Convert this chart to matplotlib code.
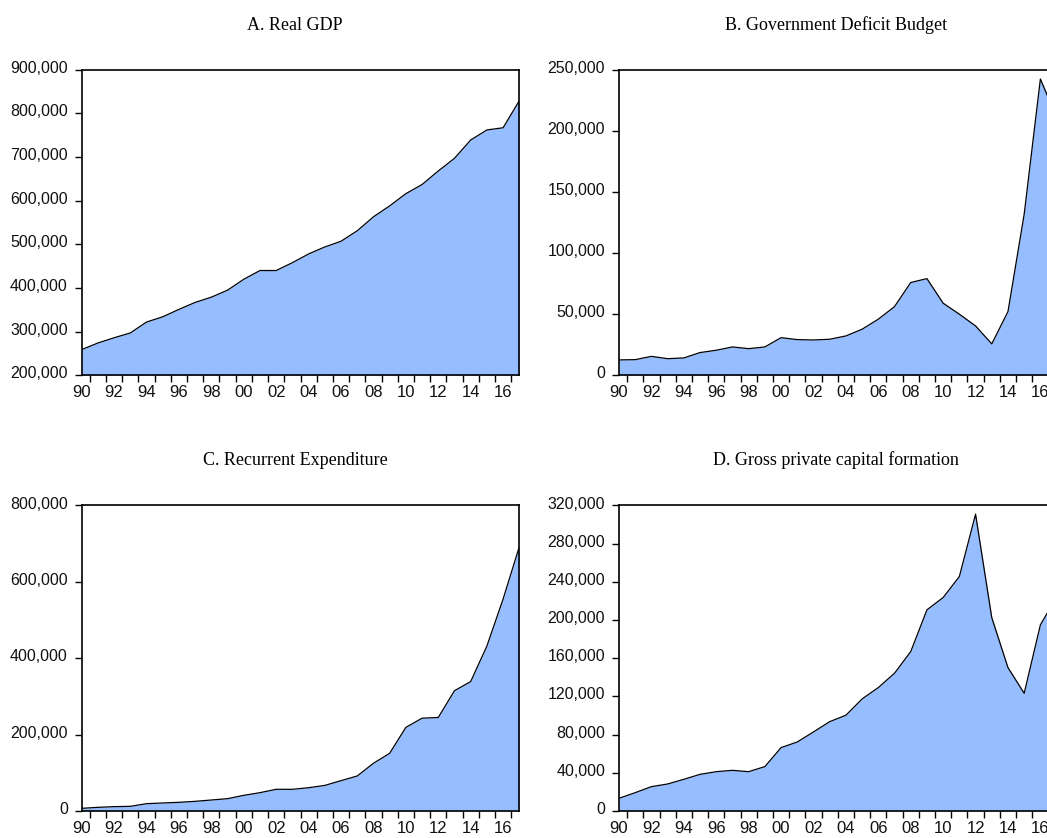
import matplotlib
matplotlib.use("Agg")
import matplotlib.pyplot as plt
from matplotlib.ticker import FixedLocator, FuncFormatter
from matplotlib.transforms import ScaledTranslation

# Annual observations, 1990-2017
years = list(range(1990, 2018))

real_gdp = [258900, 274000, 286000, 297000, 322000, 334000, 351000, 367000,
            379000, 395000, 420000, 440000, 440000, 458000, 478000, 494000,
            507000, 531000, 563000, 588000, 616000, 637000, 668000, 697000,
            739000, 762000, 767000, 829000]

deficit_budget = [12600, 12800, 15500, 13600, 14200, 18600, 20500, 23200,
                  21800, 23200, 30800, 29200, 28900, 29500, 32200, 37700,
                  45900, 56200, 75900, 79100, 59000, 50000, 40400, 25700,
                  52100, 131800, 242400, 211000]

recurrent_exp = [7000, 9600, 11400, 12200, 19200, 21000, 22700, 25300,
                 28800, 32300, 41000, 48000, 56800, 56800, 61000, 67000,
                 79500, 91700, 125000, 151000, 219000, 243000, 245000, 315000,
                 339000, 432000, 555000, 692000]

private_capital = [13300, 19200, 25500, 28300, 33200, 38400, 41200, 42600,
                   41200, 46500, 66400, 72300, 82800, 93600, 100300, 117400,
                   129300, 144300, 167000, 210700, 223600, 245600, 310900, 202600,
                   150200, 123300, 195000, 224000]

panels = [
    ("A. Real GDP", real_gdp, (200000, 900000), 100000),
    ("B. Government Deficit Budget", deficit_budget, (0, 250000), 50000),
    ("C. Recurrent Expenditure", recurrent_exp, (0, 800000), 200000),
    ("D. Gross private capital formation", private_capital, (0, 320000), 40000),
]

W, H = 1047, 838
fig = plt.figure(figsize=(W / 100, H / 100), dpi=100)

# axes boxes in pixels: left, top, right, bottom
boxes = [
    (81.7, 69.7, 519.3, 375.3),
    (619.0, 69.7, 1056.6, 375.3),
    (81.7, 505.5, 519.3, 811.0),
    (619.0, 505.5, 1056.6, 811.0),
]
title_pos = [(295, 25), (836, 25), (295, 460), (836, 460)]

fill_color = "#96bdfe"
tick_font = "Liberation Sans"
title_font = "Liberation Serif"

for (title, values, (ymin, ymax), ystep), (l, t, r, b), (tx, ty) in zip(panels, boxes, title_pos):
    ax = fig.add_axes([l / W, 1 - b / H, (r - l) / W, (b - t) / H])
    ax.fill_between(years, values, ymin, color=fill_color, linewidth=0, zorder=1)
    ax.plot(years, values, color="black", linewidth=0.9, zorder=2)
    ax.set_xlim(1990, 2017)
    ax.set_ylim(ymin, ymax)

    yt = list(range(ymin, ymax + 1, ystep))
    ax.yaxis.set_major_locator(FixedLocator(yt))
    ax.yaxis.set_major_formatter(FuncFormatter(lambda v, p: f"{int(round(v)):,}"))

    ax.xaxis.set_major_locator(FixedLocator(list(range(1990, 2017, 2))))
    ax.xaxis.set_major_formatter(FuncFormatter(lambda v, p: f"{int(round(v)) % 100:02d}"))
    ax.xaxis.set_minor_locator(FixedLocator([y + 0.5 for y in range(1990, 2017)]))

    ax.tick_params(axis="x", which="major", length=0, pad=7, labelsize=12)
    ax.tick_params(axis="x", which="minor", length=5, width=1.0, direction="out")
    ax.tick_params(axis="y", which="major", length=5, width=1.0, pad=5, labelsize=11.5,
                   direction="out")

    for lab in ax.get_xticklabels() + ax.get_yticklabels():
        lab.set_fontfamily(tick_font)
        lab.set_color("#111111")
    for lab in ax.get_yticklabels():
        lab.set_transform(lab.get_transform() + ScaledTranslation(0, 3 / 100, fig.dpi_scale_trans))

    for sp in ax.spines.values():
        sp.set_linewidth(1.2)
        sp.set_color("black")
        sp.set_zorder(3)

    fig.text(tx / W, 1 - ty / H, title, ha="center", va="center",
             fontsize=13, fontfamily=title_font, color="black")

fig.savefig("out.png", dpi=100)
